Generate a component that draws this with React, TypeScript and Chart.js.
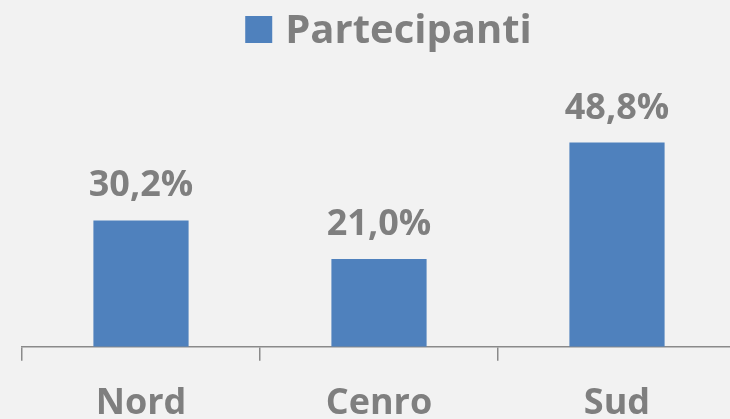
import React, { useEffect, useRef } from "react";
import { Chart, registerables } from "chart.js";

Chart.register(...registerables);

const categories = ["Nord", "Cenro", "Sud"];
const seriesName = "Partecipanti";
const values = [30.2, 21.0, 48.8];
const valueLabels = ["30,2%", "21,0%", "48,8%"];

const TEXT = "#7f7f7f";
const FONT = "'Open Sans'";

const barLabels = {
  id: "barLabels",
  afterDatasetsDraw(chart: any) {
    const ctx = chart.ctx;
    const meta = chart.getDatasetMeta(0);
    ctx.save();
    ctx.fillStyle = TEXT;
    ctx.font = `bold 36px ${FONT}`;
    ctx.textAlign = "center";
    ctx.textBaseline = "alphabetic";
    meta.data.forEach((bar: any, i: number) => {
      ctx.fillText(valueLabels[i], bar.x, bar.y - 24);
    });
    ctx.restore();
  },
};

const topLegend = {
  id: "topLegend",
  afterDraw(chart: any) {
    const ctx = chart.ctx;
    const ds = chart.data.datasets[0];
    ctx.save();
    ctx.font = `bold 40px ${FONT}`;
    const tw = ctx.measureText(ds.label).width;
    const box = 27;
    const gap = 13;
    const total = box + gap + tw;
    const cx = 388.5;
    const left = cx - total / 2;
    ctx.fillStyle = ds.backgroundColor;
    ctx.fillRect(left, 16, box, box);
    ctx.fillStyle = TEXT;
    ctx.textAlign = "left";
    ctx.textBaseline = "alphabetic";
    ctx.fillText(ds.label, left + box + gap, 43);
    ctx.restore();
  },
};

export default function App() {
  const ref = useRef<HTMLCanvasElement>(null);
  useEffect(() => {
    const chart = new Chart(ref.current!, {
      type: "bar",
      data: {
        labels: categories,
        datasets: [
          {
            label: seriesName,
            data: values,
            backgroundColor: "#4f81bd",
            barPercentage: 0.4,
            categoryPercentage: 1,
          },
        ],
      },
      options: {
        animation: false,
        responsive: false,
        maintainAspectRatio: false,
        layout: { padding: { left: 22, right: 14, top: 95.7, bottom: 0 } },
        plugins: {
          legend: { display: false },
          tooltip: { enabled: false },
        },
        scales: {
          x: {
            grid: {
              display: true,
              drawOnChartArea: false,
              drawTicks: true,
              tickLength: 14,
              color: "#8a8a8a",
              lineWidth: 1.5,
            },
            border: { display: true, color: "#8a8a8a", width: 1.5 },
            ticks: {
              color: TEXT,
              padding: 21,
              font: { family: FONT, size: 36, weight: "bold" },
            },
          },
          y: {
            display: false,
            min: 0,
            max: 60,
          },
        },
      },
      plugins: [barLabels, topLegend],
    });
    return () => chart.destroy();
  }, []);
  return (
    <div
      style={{
        position: "fixed",
        left: 0,
        top: 0,
        width: 730,
        height: 419,
        overflow: "hidden",
        background: "#f2f2f2",
      }}
    >
      <canvas ref={ref} width={750} height={446} style={{ display: "block" }} />
    </div>
  );
}
